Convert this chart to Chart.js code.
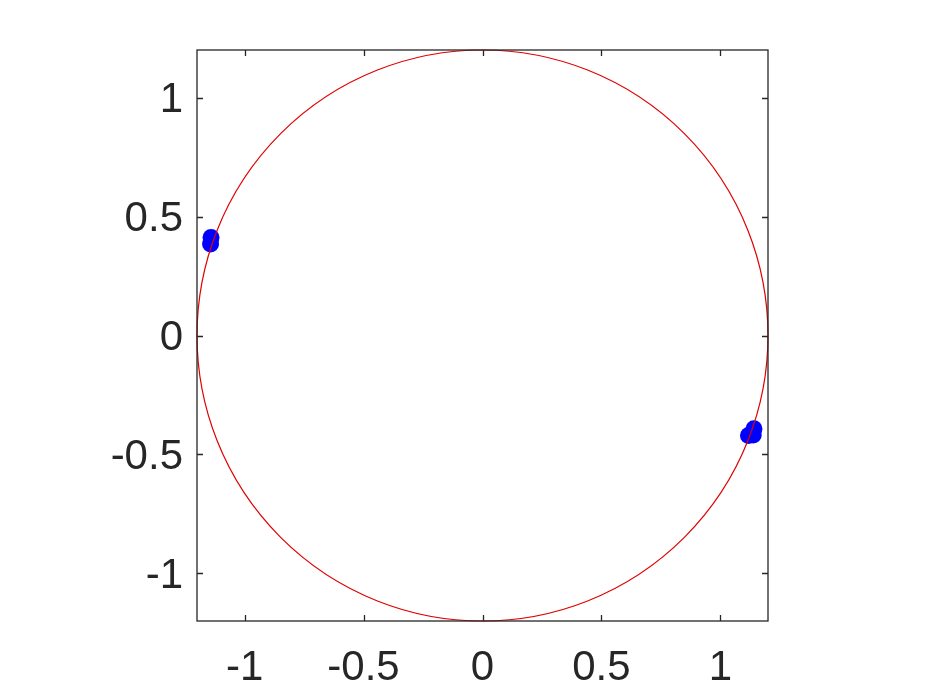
<!DOCTYPE html>
<html><head><meta charset="utf-8">
<script src="https://cdn.jsdelivr.net/npm/chart.js@4/dist/chart.umd.min.js"></script>
<style>html,body{margin:0;padding:0;background:#fff}#wrap{width:934px;height:700px}</style>
</head><body><div id="wrap"><canvas id="c" width="934" height="700"></canvas></div>
<script>
const xTicks = [-1, -0.5, 0, 0.5, 1];
const yTicks = [-1, -0.5, 0, 0.5, 1];
const axisMin = -1.2, axisMax = 1.2;
const circleRadius = 1.2;
const pointsX = [-1.141, -1.143, 1.141, 1.118, 1.138];
const pointsY = [0.412, 0.385, -0.392, -0.420, -0.418];

const boxPlugin = {
  id: 'boxTicks',
  afterDatasetsDraw(chart) {
    const {ctx, scales: {x, y}} = chart;
    ctx.save();
    const cx = x.getPixelForValue(0), cy = y.getPixelForValue(0);
    const rx = Math.abs(x.getPixelForValue(circleRadius) - cx);
    const ry = Math.abs(y.getPixelForValue(circleRadius) - cy);
    ctx.strokeStyle = '#e00000';
    ctx.lineWidth = 1.2;
    ctx.beginPath();
    ctx.ellipse(cx, cy, rx, ry, 0, 0, Math.PI * 2);
    ctx.stroke();
    ctx.restore();
  },
  afterDraw(chart) {
    const {ctx, chartArea: a, scales: {x, y}} = chart;
    ctx.save();
    ctx.strokeStyle = '#262626';
    ctx.lineWidth = 1.3;
    ctx.strokeRect(a.left, a.top, a.right - a.left, a.bottom - a.top);
    const t = 6;
    ctx.beginPath();
    xTicks.forEach(v => {
      const px = Math.round(x.getPixelForValue(v)) + 0.5;
      ctx.moveTo(px, a.bottom); ctx.lineTo(px, a.bottom - t);
      ctx.moveTo(px, a.top); ctx.lineTo(px, a.top + t);
    });
    yTicks.forEach(v => {
      const py = Math.round(y.getPixelForValue(v)) + 0.5;
      ctx.moveTo(a.left, py); ctx.lineTo(a.left + t, py);
      ctx.moveTo(a.right, py); ctx.lineTo(a.right - t, py);
    });
    ctx.stroke();
    ctx.restore();
  }
};

new Chart(document.getElementById('c'), {
  type: 'scatter',
  data: {
    datasets: [{
      data: pointsX.map((v, i) => ({x: v, y: pointsY[i]})),
      backgroundColor: '#0000ff',
      borderColor: '#0000ff',
      pointRadius: 8.5,
      pointHoverRadius: 8.5,
      borderWidth: 0
    }]
  },
  plugins: [boxPlugin],
  options: {
    responsive: false,
    animation: false,
    layout: {padding: {left: 0, right: 166, top: 50, bottom: 0}},
    plugins: {legend: {display: false}, tooltip: {enabled: false}},
    scales: {
      x: {
        type: 'linear', min: axisMin, max: axisMax,
        afterBuildTicks: s => { s.ticks = xTicks.map(v => ({value: v})); },
        afterFit: s => { s.height = 79; },
        grid: {display: false, drawTicks: false},
        border: {display: false},
        ticks: {color: '#262626', font: {family: 'Liberation Sans', size: 42}, padding: 22,
          maxRotation: 0, callback: v => String(v)}
      },
      y: {
        type: 'linear', min: axisMin, max: axisMax,
        afterBuildTicks: s => { s.ticks = yTicks.map(v => ({value: v})); },
        afterFit: s => { s.width = 197; },
        grid: {display: false, drawTicks: false},
        border: {display: false},
        ticks: {color: '#262626', font: {family: 'Liberation Sans', size: 42}, padding: 14,
          labelOffset: 3, callback: v => String(v)}
      }
    }
  }
});
</script></body></html>
